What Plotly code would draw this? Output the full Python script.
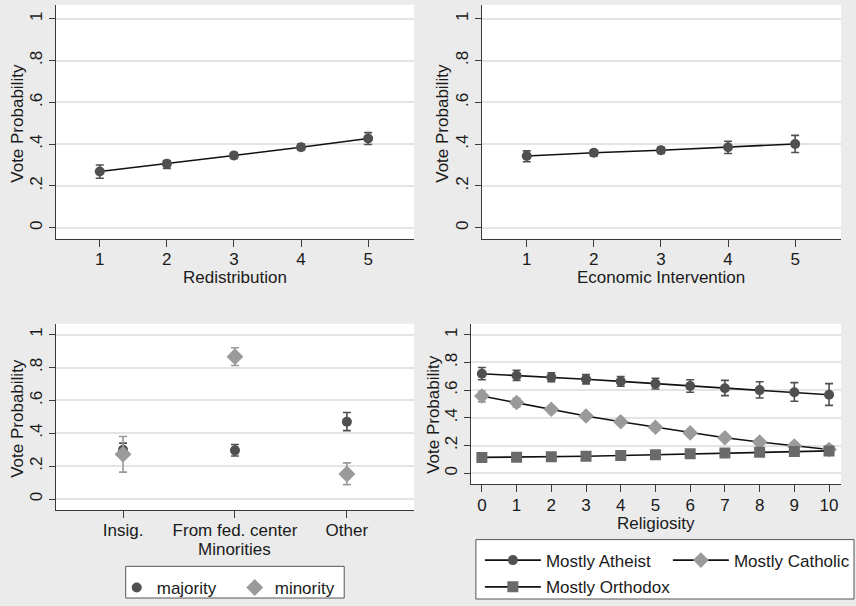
import plotly.graph_objects as go

# ---------------- data ----------------
redis_x = [1, 2, 3, 4, 5]
redis_y = [0.269, 0.306, 0.346, 0.385, 0.427]
redis_lo = [0.237, 0.284, 0.332, 0.371, 0.398]
redis_hi = [0.300, 0.322, 0.360, 0.400, 0.455]

econ_x = [1, 2, 3, 4, 5]
econ_y = [0.343, 0.359, 0.371, 0.385, 0.401]
econ_lo = [0.316, 0.344, 0.355, 0.355, 0.360]
econ_hi = [0.368, 0.371, 0.385, 0.414, 0.442]

minor_cats = ["Insig.", "From fed. center", "Other"]
majority_y = [0.300, 0.296, 0.470]
majority_lo = [0.265, 0.262, 0.416]
majority_hi = [0.340, 0.332, 0.526]
minority_y = [0.272, 0.866, 0.152]
minority_lo = [0.164, 0.812, 0.088]
minority_hi = [0.380, 0.920, 0.220]

relig_x = [0, 1, 2, 3, 4, 5, 6, 7, 8, 9, 10]
atheist_y = [0.718, 0.706, 0.692, 0.678, 0.663, 0.647, 0.630, 0.614, 0.600, 0.585, 0.566]
atheist_lo = [0.675, 0.670, 0.660, 0.645, 0.628, 0.608, 0.585, 0.560, 0.543, 0.520, 0.490]
atheist_hi = [0.763, 0.743, 0.725, 0.712, 0.698, 0.686, 0.675, 0.670, 0.660, 0.654, 0.647]
catholic_y = [0.557, 0.510, 0.462, 0.413, 0.372, 0.332, 0.291, 0.256, 0.225, 0.197, 0.171]
catholic_lo = [0.515, 0.478, 0.440, 0.398, 0.360, 0.320, 0.278, 0.240, 0.205, 0.172, 0.140]
catholic_hi = [0.592, 0.540, 0.482, 0.430, 0.386, 0.346, 0.306, 0.272, 0.245, 0.222, 0.200]
orthodox_y = [0.114, 0.116, 0.119, 0.123, 0.128, 0.134, 0.140, 0.146, 0.151, 0.156, 0.161]
orthodox_lo = [0.104, 0.107, 0.111, 0.116, 0.121, 0.127, 0.132, 0.137, 0.141, 0.145, 0.149]
orthodox_hi = [0.124, 0.125, 0.127, 0.130, 0.135, 0.141, 0.148, 0.155, 0.161, 0.167, 0.173]

ytick_vals = [0, 0.2, 0.4, 0.6, 0.8, 1]
ytick_text = ["0", ".2", ".4", ".6", ".8", "1"]

# ---------------- style ----------------
W, H = 856, 606
FONT = "Liberation Sans, Arial, sans-serif"
DARK = "#505050"
LIGHT = "#9a9a9a"
MID = "#6a6a6a"
LINE = "#111111"
AX = "#3a3a3a"
GRID = "#e4e4e4"
BG = "#ebebeb"
TXT = "#1a1a1a"


def px_x(p):
    return p / W


def px_y(p):
    return 1 - p / H


def err(y, lo, hi, color):
    return dict(type="data", symmetric=False,
                array=[h - v for v, h in zip(y, hi)],
                arrayminus=[v - l for v, l in zip(y, lo)],
                color=color, thickness=1.6, width=4)


fig = go.Figure()

# Top-left: Redistribution
fig.add_trace(go.Scatter(x=redis_x, y=redis_y, mode="lines+markers",
                         line=dict(color=LINE, width=1.6),
                         marker=dict(symbol="circle", size=10, color=DARK),
                         error_y=err(redis_y, redis_lo, redis_hi, DARK),
                         xaxis="x", yaxis="y", showlegend=False))
# Top-right: Economic Intervention
fig.add_trace(go.Scatter(x=econ_x, y=econ_y, mode="lines+markers",
                         line=dict(color=LINE, width=1.6),
                         marker=dict(symbol="circle", size=10, color=DARK),
                         error_y=err(econ_y, econ_lo, econ_hi, DARK),
                         xaxis="x2", yaxis="y2", showlegend=False))
# Bottom-left: Minorities
fig.add_trace(go.Scatter(x=minor_cats, y=majority_y, mode="markers", name="majority",
                         marker=dict(symbol="circle", size=10, color=DARK),
                         error_y=err(majority_y, majority_lo, majority_hi, DARK),
                         xaxis="x3", yaxis="y3", legend="legend"))
fig.add_trace(go.Scatter(x=minor_cats, y=minority_y, mode="markers", name="minority",
                         marker=dict(symbol="diamond", size=13, color=LIGHT),
                         error_y=err(minority_y, minority_lo, minority_hi, LIGHT),
                         xaxis="x3", yaxis="y3", legend="legend"))
# Bottom-right: Religiosity
fig.add_trace(go.Scatter(x=relig_x, y=atheist_y, mode="lines+markers", name="Mostly Atheist",
                         line=dict(color=LINE, width=1.6),
                         marker=dict(symbol="circle", size=10, color=DARK),
                         error_y=err(atheist_y, atheist_lo, atheist_hi, DARK),
                         xaxis="x4", yaxis="y4", legend="legend2"))
fig.add_trace(go.Scatter(x=relig_x, y=catholic_y, mode="lines+markers", name="Mostly Catholic",
                         line=dict(color=LINE, width=1.6),
                         marker=dict(symbol="diamond", size=12, color=LIGHT),
                         error_y=err(catholic_y, catholic_lo, catholic_hi, LIGHT),
                         xaxis="x4", yaxis="y4", legend="legend2"))
fig.add_trace(go.Scatter(x=relig_x, y=orthodox_y, mode="lines+markers", name="Mostly Orthodox",
                         line=dict(color=LINE, width=1.6),
                         marker=dict(symbol="square", size=11, color=MID),
                         error_y=err(orthodox_y, orthodox_lo, orthodox_hi, MID),
                         xaxis="x4", yaxis="y4", legend="legend3"))


def xax(domain, rng, anchor, **kw):
    d = dict(domain=domain, range=rng, anchor=anchor,
             showline=True, linecolor=AX, linewidth=1.2,
             ticks="outside", ticklen=7, tickcolor=AX, tickwidth=1.2,
             showgrid=False, zeroline=False, ticklabelstandoff=-2,
             tickfont=dict(size=17, color=TXT))
    d.update(kw)
    return d


def yax(domain, rng, anchor):
    return dict(domain=domain, range=rng, anchor=anchor,
                showline=True, linecolor=AX, linewidth=1.2,
                ticks="outside", ticklen=6, tickcolor=AX, tickwidth=1.2,
                showgrid=True, gridcolor=GRID, gridwidth=1.5, zeroline=False,
                tickvals=ytick_vals, ticktext=ytick_text, tickangle=-90,
                tickfont=dict(size=17, color=TXT))


top_y = [px_y(241), px_y(5)]
bot_y_l = [px_y(515), px_y(327)]
bot_y_r = [px_y(489), px_y(327)]


def ann(text, x, y, angle=0):
    return dict(text=text, x=px_x(x), y=px_y(y), xref="paper", yref="paper",
                xanchor="center", yanchor="middle", showarrow=False,
                textangle=angle, font=dict(size=17, color=TXT))


annotations = [
    ann("Redistribution", 235.5, 280),
    ann("Economic Intervention", 663, 280),
    ann("Minorities", 235.5, 555),
    ann("Religiosity", 657.5, 529),
    ann("Vote Probability", 18, 124, -90),
    ann("Vote Probability", 444, 124, -90),
    ann("Vote Probability", 18, 422, -90),
    ann("Vote Probability", 435, 418, -90),
]

fig.update_layout(
    width=W, height=H,
    margin=dict(l=0, r=0, t=0, b=0),
    paper_bgcolor=BG, plot_bgcolor="white",
    font=dict(family=FONT, size=17, color=TXT),
    xaxis=xax([px_x(56), px_x(415)], [0.346, 5.684], "y", tickvals=redis_x),
    yaxis=yax(top_y, [-0.052, 1.066], "x"),
    xaxis2=xax([px_x(483), px_x(843)], [0.331, 5.684], "y2", tickvals=econ_x),
    yaxis2=yax(top_y, [-0.052, 1.066], "x2"),
    xaxis3=xax([px_x(56), px_x(415)], [-0.60, 2.60], "y3", type="category"),
    yaxis3=yax(bot_y_l, [-0.066, 1.066], "x3"),
    xaxis4=xax([px_x(472), px_x(843)], [-0.316, 10.345], "y4", tickvals=relig_x),
    yaxis4=yax(bot_y_r, [-0.079, 1.079], "x4"),
    annotations=annotations,
    legend=dict(x=px_x(117), y=px_y(576), xanchor="left", yanchor="top",
                orientation="h", bgcolor="rgba(0,0,0,0)", borderwidth=0,
                entrywidth=73, entrywidthmode="pixels",
                font=dict(size=17, color=TXT), itemsizing="trace"),
    legend2=dict(x=px_x(481), y=px_y(548), xanchor="left", yanchor="top",
                 orientation="h", bgcolor="rgba(0,0,0,0)", borderwidth=0,
                 itemwidth=56, entrywidth=117, entrywidthmode="pixels",
                 font=dict(size=17, color=TXT), itemsizing="trace"),
    legend3=dict(x=px_x(481), y=px_y(575), xanchor="left", yanchor="top",
                 orientation="h", bgcolor="rgba(0,0,0,0)", borderwidth=0,
                 itemwidth=56,
                 font=dict(size=17, color=TXT), itemsizing="trace"),
    shapes=[
        dict(type="rect", xref="paper", yref="paper",
             x0=px_x(126), x1=px_x(345), y0=px_y(604), y1=px_y(572),
             line=dict(color="#555555", width=1), fillcolor="white", layer="below"),
        dict(type="rect", xref="paper", yref="paper",
             x0=px_x(477), x1=px_x(856), y0=px_y(605), y1=px_y(545),
             line=dict(color="#555555", width=1), fillcolor="white", layer="below"),
    ],
)

fig.write_html("out.html", config={"displayModeBar": False},
               post_script="document.body.style.margin='0px';")
